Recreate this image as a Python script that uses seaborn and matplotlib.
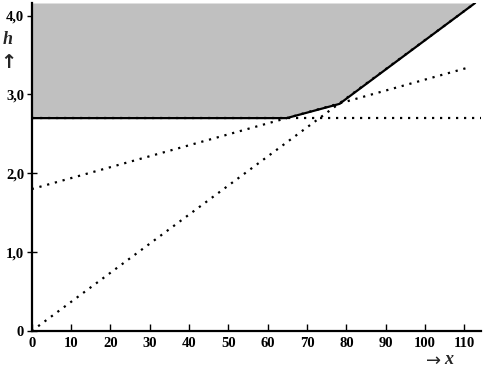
import matplotlib
matplotlib.use("Agg")
import matplotlib.pyplot as plt
import seaborn as sns
import pandas as pd

# data
line_origin_x = [0, 112.7]
line_origin_h = [0.0, 4.16]
line_b_x = [0, 111.6]
line_b_h = [1.80, 3.35]
line_c_x = [0, 114.2]
line_c_h = [2.70, 2.70]
env_x = [0, 64.8, 78.2, 112.7]
env_h = [2.70, 2.70, 2.88, 4.16]
x_ticks = [0, 10, 20, 30, 40, 50, 60, 70, 80, 90, 100, 110]
y_ticks = [0, 1, 2, 3, 4]
y_tick_labels = ["0", "1,0", "2,0", "3,0", "4,0"]
x_max = 114.2
h_max = 4.16

sns.set_style("ticks")
plt.rcParams['font.family'] = ['Liberation Serif', 'DejaVu Serif']

fig = plt.figure(figsize=(4.97, 3.75), dpi=100)
ax = fig.add_axes([31.7 / 497, 44 / 375, (481 - 31.7) / 497, (331 - 3) / 375])

ax.fill_between(env_x, env_h, [h_max] * len(env_x), color="#c0c0c0", lw=0, zorder=1)

for xs, hs in [(line_origin_x, line_origin_h), (line_b_x, line_b_h), (line_c_x, line_c_h)]:
    df = pd.DataFrame({"x": xs, "h": hs})
    sns.lineplot(data=df, x="x", y="h", ax=ax, color="black", lw=1.6, zorder=2)
    ax.lines[-1].set_dashes((1, 2.6))

df_env = pd.DataFrame({"x": env_x, "h": env_h})
sns.lineplot(data=df_env, x="x", y="h", ax=ax, color="black", lw=1.6, zorder=3)

ax.set_xlim(0, x_max)
ax.set_ylim(0, h_max)
ax.set_xlabel("")
ax.set_ylabel("")
sns.despine(ax=ax)
for s in ["left", "bottom"]:
    ax.spines[s].set_linewidth(1.6)
    ax.spines[s].set_color("black")

ax.set_xticks(x_ticks)
ax.set_xticklabels([str(v) for v in x_ticks], fontsize=10.5, fontweight="bold")
ax.set_yticks(y_ticks)
ax.set_yticklabels(y_tick_labels, fontsize=10.5, fontweight="bold")
ax.tick_params(axis="x", direction="in", length=5, width=1, pad=4, colors="black")
ax.tick_params(axis="y", direction="inout", length=7, width=1, pad=2, colors="black")

fig.text(8 / 497, 1 - 39 / 375, "h", fontsize=13, fontweight="bold", style="italic",
         ha="center", va="center")
fig.text(8 / 497, 1 - 62 / 375, "↑", fontsize=14, fontweight="bold", ha="center",
         va="center", family=["DejaVu Sans"])
fig.text(434 / 497, 1 - 361 / 375, "→", fontsize=13, ha="center", va="center",
         family=["DejaVu Sans"])
fig.text(449 / 497, 1 - 360 / 375, "x", fontsize=13, fontweight="bold", style="italic",
         ha="center", va="center")

fig.savefig("out.png", dpi=100)
